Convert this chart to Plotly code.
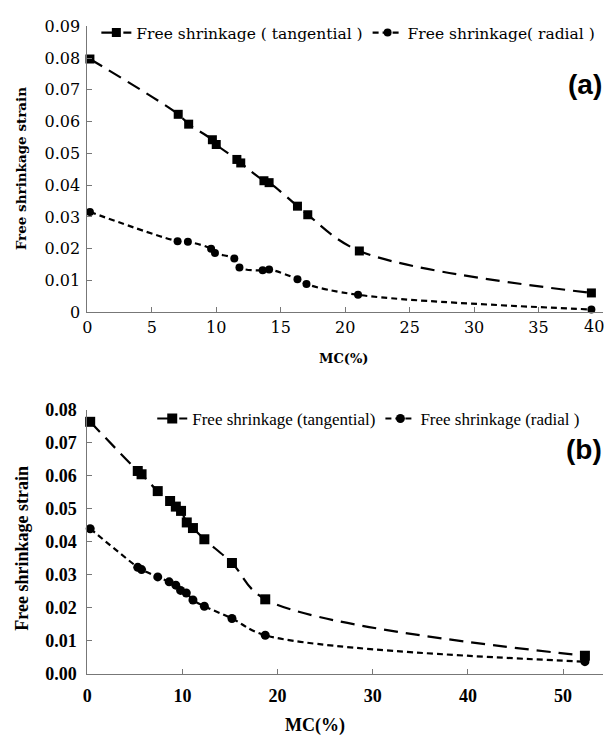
import plotly.graph_objects as go

# ---- Panel (a) data ----
a_tan_mc = [0.2, 7.05, 7.86, 9.7, 10.0, 11.6, 11.9, 13.7, 14.1, 16.3, 17.1, 21.1, 39.1]
a_tan_strain = [0.0797, 0.0623, 0.0592, 0.0543, 0.0528, 0.0481, 0.0470, 0.0414, 0.0408, 0.0334, 0.0307, 0.0193, 0.0061]
a_rad_mc = [0.2, 7.0, 7.8, 9.6, 9.9, 11.4, 11.8, 13.6, 14.1, 16.3, 17.0, 21.0, 39.1]
a_rad_strain = [0.0316, 0.0224, 0.0222, 0.0200, 0.0187, 0.0169, 0.0141, 0.0132, 0.0135, 0.0104, 0.0089, 0.0055, 0.0009]

# ---- Panel (b) data ----
b_tan_mc = [0.3, 5.3, 5.7, 7.4, 8.7, 9.3, 9.85, 10.45, 11.1, 12.3, 15.2, 18.7, 52.3]
b_tan_strain = [0.0763, 0.0614, 0.0604, 0.0553, 0.0523, 0.0506, 0.0493, 0.0458, 0.0441, 0.0407, 0.0335, 0.0225, 0.0054]
b_rad_mc = [0.3, 5.3, 5.7, 7.4, 8.6, 9.3, 9.8, 10.4, 11.1, 12.3, 15.2, 18.7, 52.3]
b_rad_strain = [0.0439, 0.0322, 0.0315, 0.0293, 0.0278, 0.0268, 0.0252, 0.0244, 0.0223, 0.0204, 0.0167, 0.0116, 0.0036]

a_xticks = [0, 5, 10, 15, 20, 25, 30, 35]
a_xlast = 40
a_yticks = [0, 0.01, 0.02, 0.03, 0.04, 0.05, 0.06, 0.07, 0.08, 0.09]
a_yticktext = ["0", "0.01", "0.02", "0.03", "0.04", "0.05", "0.06", "0.07", "0.08", "0.09"]
b_xticks = [0, 10, 20, 30, 40, 50]
b_yticks = [0, 0.01, 0.02, 0.03, 0.04, 0.05, 0.06, 0.07, 0.08]

FA = "DejaVu Serif"
FB = "Liberation Serif"

fig = go.Figure()

fig.add_trace(go.Scatter(
    x=a_tan_mc, y=a_tan_strain, name="Free shrinkage ( tangential )",
    mode="lines+markers", line=dict(color="black", width=2.2, dash="14px,8px", shape="spline", smoothing=1.0),
    marker=dict(symbol="square", size=9, color="black"), xaxis="x", yaxis="y", legend="legend",
    cliponaxis=False))
fig.add_trace(go.Scatter(
    x=a_rad_mc, y=a_rad_strain, name="Free shrinkage( radial )",
    mode="lines+markers", line=dict(color="black", width=2.2, dash="6px,4px", shape="spline", smoothing=1.0),
    marker=dict(symbol="circle", size=8, color="black"), xaxis="x", yaxis="y", legend="legend",
    cliponaxis=False))
fig.add_trace(go.Scatter(
    x=b_tan_mc, y=b_tan_strain, name="Free shrinkage (tangential)",
    mode="lines+markers", line=dict(color="black", width=2.2, dash="14px,8px", shape="spline", smoothing=1.0),
    marker=dict(symbol="square", size=10, color="black"), xaxis="x2", yaxis="y2", legend="legend2",
    cliponaxis=False))
fig.add_trace(go.Scatter(
    x=b_rad_mc, y=b_rad_strain, name="Free shrinkage (radial )",
    mode="lines+markers", line=dict(color="black", width=2.2, dash="6px,4px", shape="spline", smoothing=1.0),
    marker=dict(symbol="circle", size=9, color="black"), xaxis="x2", yaxis="y2", legend="legend2",
    cliponaxis=False))

axis_common = dict(showgrid=False, zeroline=False, showline=True, linecolor="#777", linewidth=1,
                   ticks="inside", ticklen=5, tickcolor="#777")

fig.update_layout(
    width=606, height=740,
    margin=dict(l=0, r=0, t=0, b=0),
    plot_bgcolor="white", paper_bgcolor="white",
    xaxis=dict(domain=[0.137, 0.995], range=[0, 40], tickvals=a_xticks + [a_xlast], anchor="y",
               ticktext=[str(v) for v in a_xticks] + [""],
               tickfont=dict(family=FA, size=16, color="black"), **axis_common),
    yaxis=dict(domain=[0.5801, 0.9774], range=[0, 0.09], tickvals=a_yticks, ticktext=a_yticktext,
               anchor="x", ticklabelstandoff=3,
               tickfont=dict(family=FA, size=16, color="black"), **axis_common),
    xaxis2=dict(domain=[0.137, 0.995], range=[0, 54.2], tickvals=b_xticks, anchor="y2",
                ticklabelstandoff=6,
                tickfont=dict(family=FB, size=18, color="black", weight="bold"), **axis_common),
    yaxis2=dict(domain=[0.0784, 0.445], range=[0, 0.08], tickvals=b_yticks, tickformat=".2f",
                anchor="x2", ticklabelstandoff=6,
                tickfont=dict(family=FB, size=18, color="black", weight="bold"), **axis_common),
    legend=dict(x=0.152, y=0.968, xanchor="left", yanchor="middle", orientation="h",
                font=dict(family=FA, size=15.5, color="black"), itemwidth=30, bgcolor="rgba(0,0,0,0)"),
    legend2=dict(x=0.245, y=0.432, xanchor="left", yanchor="middle", orientation="h",
                 font=dict(family=FB, size=17, color="black"), itemwidth=30, bgcolor="rgba(0,0,0,0)"),
    showlegend=True,
)

annotations = [
    dict(text=str(a_xlast), x=1.0, y=0.561, xref="paper", yref="paper", showarrow=False,
         xanchor="right", yanchor="middle", font=dict(family=FA, size=16, color="black")),
    dict(text="Free shrinkage strain", x=0.028, y=0.78, xref="paper", yref="paper", textangle=-90,
         xanchor="center", yanchor="middle",
         showarrow=False, font=dict(family=FA, size=13.5, color="black", weight="bold")),
    dict(text="MC(%)", x=0.564, y=0.516, xref="paper", yref="paper", showarrow=False,
         xanchor="center", yanchor="middle",
         font=dict(family=FA, size=13, color="black", weight="bold")),
    dict(text="(a)", x=0.965, y=0.896, xref="paper", yref="paper", showarrow=False,
         xanchor="center", yanchor="middle",
         font=dict(family="Liberation Sans", size=28, color="black", weight="bold")),
    dict(text="Free shrinkage strain", x=0.028, y=0.253, xref="paper", yref="paper", textangle=-90,
         xanchor="center", yanchor="middle",
         showarrow=False, font=dict(family=FB, size=18, color="black", weight="bold")),
    dict(text="MC(%)", x=0.516, y=0.006, xref="paper", yref="paper", showarrow=False,
         xanchor="center", yanchor="middle",
         font=dict(family=FB, size=18, color="black", weight="bold")),
    dict(text="(b)", x=0.963, y=0.389, xref="paper", yref="paper", showarrow=False,
         xanchor="center", yanchor="middle",
         font=dict(family="Liberation Sans", size=28, color="black", weight="bold")),
]
fig.update_layout(annotations=annotations)

fig.write_html("out.html")
